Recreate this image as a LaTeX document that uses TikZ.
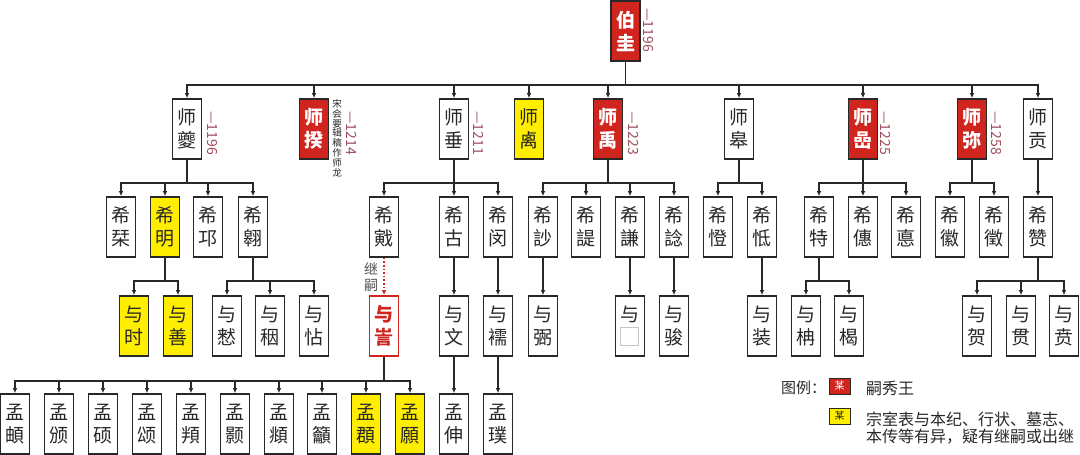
\documentclass[tikz,border=0pt]{standalone}
\usepackage{fontspec}
\newfontfamily\cjk{Noto Sans CJK SC}
\usetikzlibrary{arrows.meta}
\definecolor{kred}{RGB}{208,36,30}
\definecolor{kyel}{RGB}{255,238,0}
\definecolor{kdate}{RGB}{160,80,95}
\definecolor{ktxt}{RGB}{40,40,40}
\begin{document}
\begin{tikzpicture}[x=1pt,y=-1pt,
 box/.style={draw=ktxt,line width=1.7pt,fill=white,minimum width=29pt,minimum height=60pt,inner sep=0pt,align=center,font=\cjk\fontsize{19}{23}\selectfont,text=ktxt},
 redbox/.style={box,fill=kred,text=white,font=\cjk\bfseries\fontsize{19}{23}\selectfont},
 yelbox/.style={box,fill=kyel},
 heirbox/.style={box,draw=kred,text=kred,font=\cjk\bfseries\fontsize{19}{23}\selectfont},
 conn/.style={line width=1.6pt,draw=ktxt,-{Latex[length=5pt,width=4.5pt]}},
 dated/.style={rotate=-90,anchor=west,inner sep=0pt,text=kdate,font=\cjk\fontsize{14}{14}\selectfont},
 note/.style={anchor=north,inner sep=0pt,align=center,text=ktxt,font=\cjk\fontsize{9.5}{9.9}\selectfont},
 legtxt/.style={anchor=west,inner sep=0pt,text=ktxt,font=\cjk\fontsize{16}{16}\selectfont},
 swatch/.style={draw=ktxt,line width=1pt,minimum width=21pt,minimum height=16pt,inner sep=0pt,font=\cjk\fontsize{10}{10}\selectfont},
]
\useasboundingbox[fill=white] (0,0) rectangle (1080,455);

% root
\node[redbox] (r) at (625.5,31) {伯\\圭};
\node[dated] (rd) at (648,8) {—1196};

% level 1
\node[box]    (a1) at (187,129) {师\\夔};
\node[redbox] (a2) at (314,129) {师\\揆};
\node[box]    (a3) at (454,129) {师\\垂};
\node[yelbox] (a4) at (529,129) {师\\禼};
\node[redbox] (a5) at (608,129) {师\\禹};
\node[box]    (a6) at (739,129) {师\\皋};
\node[redbox] (a7) at (863,129) {师\\嵒};
\node[redbox] (a8) at (972,129) {师\\弥};
\node[box]    (a9) at (1038,129) {师\\贡};
\node[dated] (a1d) at (212,111) {—1196};
\node[dated] (a2d) at (352,111) {—1214};
\node[note]  (a2n) at (337,99) {宋\\会\\要\\辑\\稿\\作\\师\\龙};
\node[dated] (a3d) at (479,111) {—1211};
\node[dated] (a5d) at (633,111) {—1223};
\node[dated] (a7d) at (885,111) {—1225};
\node[dated] (a8d) at (996,111) {—1258};

% level 2
\node[box]    (b1) at (121,227) {希\\栞};
\node[yelbox] (b2) at (165,227) {希\\明};
\node[box]    (b3) at (208,227) {希\\邛};
\node[box]    (b4) at (253,227) {希\\翱};
\node[box]    (b5) at (384,227) {希\\戭};
\node[box]    (b6) at (454,227) {希\\古};
\node[box]    (b7) at (498,227) {希\\闵};
\node[box]    (b8) at (543,227) {希\\訬};
\node[box]    (b9) at (586,227) {希\\諟};
\node[box]    (b10) at (630,227) {希\\謙};
\node[box]    (b11) at (674,227) {希\\諗};
\node[box]    (b12) at (718,227) {希\\憕};
\node[box]    (b13) at (762,227) {希\\怟};
\node[box]    (b14) at (819,227) {希\\特};
\node[box]    (b15) at (863,227) {希\\僡};
\node[box]    (b16) at (906,227) {希\\悳};
\node[box]    (b17) at (950,227) {希\\徽};
\node[box]    (b18) at (994,227) {希\\徵};
\node[box]    (b19) at (1038,227) {希\\赞};

% level 3
\node[yelbox] (c1) at (134,326) {与\\时};
\node[yelbox] (c2) at (178,326) {与\\善};
\node[box]    (c3) at (227,326) {与\\慭};
\node[box]    (c4) at (270,326) {与\\秵};
\node[box]    (c5) at (314,326) {与\\怗};
\node[heirbox] (c6) at (384,326) {与\\訔};
\node[box]    (c7) at (454,326) {与\\文};
\node[box]    (c8) at (498,326) {与\\襦};
\node[box]    (c9) at (543,326) {与\\弻};
\node[box]    (c10) at (630,326) {与\\\phantom{与}};
\node[draw=gray!45,line width=0.8pt,minimum size=18pt,inner sep=0pt] (c10q) at (629.5,336.5) {};
\node[box]    (c11) at (674,326) {与\\骏};
\node[box]    (c12) at (762,326) {与\\装};
\node[box]    (c13) at (806,326) {与\\柟};
\node[box]    (c14) at (849,326) {与\\楬};
\node[box]    (c15) at (977,326) {与\\贺};
\node[box]    (c16) at (1021,326) {与\\贯};
\node[box]    (c17) at (1064,326) {与\\贲};

% level 4
\node[box]    (d1) at (15,424) {孟\\頔};
\node[box]    (d2) at (59,424) {孟\\颁};
\node[box]    (d3) at (103,424) {孟\\硕};
\node[box]    (d4) at (147,424) {孟\\颂};
\node[box]    (d5) at (191,424) {孟\\頖};
\node[box]    (d6) at (235,424) {孟\\颢};
\node[box]    (d7) at (279,424) {孟\\頫};
\node[box]    (d8) at (322,424) {孟\\籲};
\node[yelbox] (d9) at (366,424) {孟\\頵};
\node[yelbox] (d10) at (410,424) {孟\\願};
\node[box]    (d11) at (454,424) {孟\\伸};
\node[box]    (d12) at (498,424) {孟\\璞};

% connectors
\foreach \c in {a1,a2,a3,a4,a5,a6,a7,a8,a9}
  \draw[conn] (r.south) -- ++(0,23) -| (\c.north);
\foreach \c in {b1,b2,b3,b4}
  \draw[conn] (a1.south) -- ++(0,23) -| (\c.north);
\foreach \c in {b5,b6,b7}
  \draw[conn] (a3.south) -- ++(0,23) -| (\c.north);
\foreach \c in {b8,b9,b10,b11}
  \draw[conn] (a5.south) -- ++(0,23) -| (\c.north);
\foreach \c in {b12,b13}
  \draw[conn] (a6.south) -- ++(0,23) -| (\c.north);
\foreach \c in {b14,b15,b16}
  \draw[conn] (a7.south) -- ++(0,23) -| (\c.north);
\foreach \c in {b17,b18}
  \draw[conn] (a8.south) -- ++(0,23) -| (\c.north);
\draw[conn] (a9.south) -- (b19.north);

\foreach \c in {c1,c2}
  \draw[conn] (b2.south) -- ++(0,23) -| (\c.north);
\foreach \c in {c3,c4,c5}
  \draw[conn] (b4.south) -- ++(0,23) -| (\c.north);
\draw[line width=1.6pt,draw=kred,dotted,-{Latex[length=5pt,width=4.5pt]}] (b5.south) -- (c6.north);
\node[inner sep=0pt,align=center,text=ktxt!80,font=\cjk\fontsize{14}{16}\selectfont] (jsl) at (371,277) {继\\嗣};
\draw[conn] (b6.south) -- (c7.north);
\draw[conn] (b7.south) -- (c8.north);
\draw[conn] (b8.south) -- (c9.north);
\draw[conn] (b10.south) -- (c10.north);
\draw[conn] (b11.south) -- (c11.north);
\draw[conn] (b13.south) -- (c12.north);
\foreach \c in {c13,c14}
  \draw[conn] (b14.south) -- ++(0,23) -| (\c.north);
\foreach \c in {c15,c16,c17}
  \draw[conn] (b19.south) -- ++(0,23) -| (\c.north);

\foreach \c in {d1,d2,d3,d4,d5,d6,d7,d8,d9,d10}
  \draw[conn] (c6.south) -- ++(0,24) -| (\c.north);
\draw[conn] (c7.south) -- (d11.north);
\draw[conn] (c8.south) -- (d12.north);

% legend
\node[legtxt,font=\cjk\fontsize{15}{15}\selectfont] (lg) at (781,388) {图例：};
\node[swatch,fill=kred,text=white] (ls1) at (839.5,386) {某};
\node[swatch,fill=kyel,text=ktxt] (ls2) at (839.5,416) {某};
\node[legtxt] (lt1) at (866,388) {嗣秀王};
\node[legtxt] (lt2) at (866,419) {宗室表与本纪、行状、墓志、};
\node[legtxt] (lt3) at (866,437) {本传等有异，疑有继嗣或出继};
\end{tikzpicture}
\end{document}
